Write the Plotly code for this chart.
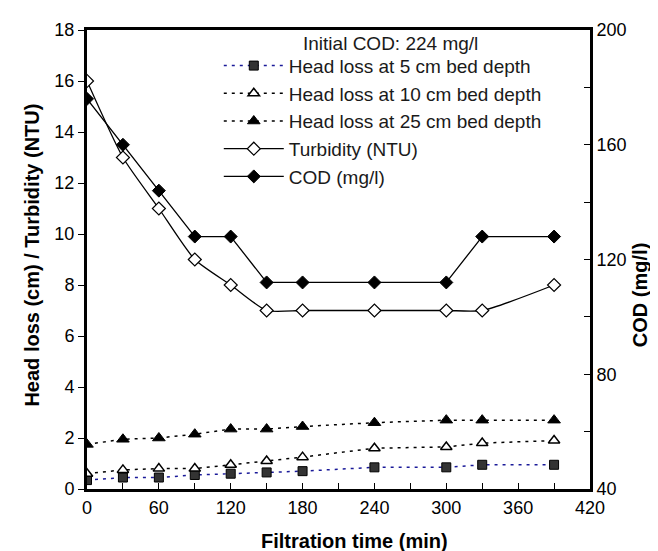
import plotly.graph_objects as go

time_min = [0, 30, 60, 90, 120, 150, 180, 240, 300, 330, 390]
head_loss_5cm = [0.35, 0.45, 0.45, 0.55, 0.6, 0.65, 0.7, 0.85, 0.85, 0.95, 0.95]
head_loss_10cm = [0.6, 0.75, 0.8, 0.8, 0.95, 1.1, 1.25, 1.6, 1.65, 1.8, 1.9]
head_loss_25cm = [1.75, 1.95, 2.0, 2.15, 2.35, 2.35, 2.45, 2.6, 2.7, 2.7, 2.7]
turbidity_ntu = [16, 13, 11, 9, 8, 7, 7, 7, 7, 7, 8]
cod_mgl = [176, 160, 144, 128, 128, 112, 112, 112, 112, 128, 128]

x_ticks = [0, 60, 120, 180, 240, 300, 360, 420]
left_ticks = [0, 2, 4, 6, 8, 10, 12, 14, 16, 18]
right_ticks = [40, 80, 120, 160, 200]

FONT = "Liberation Sans, Arial, sans-serif"
DOT = "3px,5px"
TICK_SIZE = 18
TITLE_SIZE = 20
LEG_SIZE = 19

fig = go.Figure()

fig.add_trace(go.Scatter(
    x=time_min, y=head_loss_5cm, name="Head loss at 5 cm bed depth",
    mode="lines+markers",
    line=dict(color="#1a1a99", width=1.5, dash=DOT),
    marker=dict(symbol="square", size=9, color="#333333", line=dict(color="#000000", width=1)),
))
fig.add_trace(go.Scatter(
    x=time_min, y=head_loss_10cm, name="Head loss at 10 cm bed depth",
    mode="lines+markers",
    line=dict(color="#000000", width=1.5, dash=DOT),
    marker=dict(symbol="triangle-up", size=10, color="#ffffff", line=dict(color="#000000", width=1.5)),
))
fig.add_trace(go.Scatter(
    x=time_min, y=head_loss_25cm, name="Head loss at 25 cm bed depth",
    mode="lines+markers",
    line=dict(color="#000000", width=1.5, dash=DOT),
    marker=dict(symbol="triangle-up", size=11, color="#000000", line=dict(color="#000000", width=1)),
))
fig.add_trace(go.Scatter(
    x=time_min, y=turbidity_ntu, name="Turbidity (NTU)",
    mode="lines+markers",
    line=dict(color="#000000", width=1.3, shape="spline", smoothing=0.6),
    marker=dict(symbol="diamond", size=10, color="#ffffff", line=dict(color="#000000", width=1.2)),
))
fig.add_trace(go.Scatter(
    x=time_min, y=cod_mgl, name="COD (mg/l)", yaxis="y2",
    mode="lines+markers",
    line=dict(color="#000000", width=1.3),
    marker=dict(symbol="diamond", size=10, color="#000000", line=dict(color="#000000", width=1)),
))

fig.update_layout(
    width=658, height=551,
    margin=dict(l=79, r=76, t=13, b=70),
    paper_bgcolor="white", plot_bgcolor="white",
    font=dict(family=FONT, size=TICK_SIZE, color="#000000"),
    showlegend=True,
    legend=dict(
        x=0.262, y=0.9635, xanchor="left", yanchor="top",
        bgcolor="rgba(0,0,0,0)", borderwidth=0,
        font=dict(family=FONT, size=LEG_SIZE, color="#1a1a1a"),
        tracegroupgap=0, itemwidth=60,
    ),
    xaxis=dict(
        range=[0, 420], tickvals=x_ticks, ticktext=[str(v) for v in x_ticks],
        showgrid=False, zeroline=False,
        showline=True, linecolor="#000000", linewidth=3, mirror=True,
        ticks="inside", ticklen=6, tickwidth=1, tickcolor="#000000",
        minor=dict(dtick=30, tick0=0, ticks="inside", ticklen=6, tickwidth=1, tickcolor="#000000"),
        tickfont=dict(family=FONT, size=TICK_SIZE),
    ),
    yaxis=dict(
        range=[0, 18], tickvals=left_ticks, ticktext=[str(v) for v in left_ticks],
        showgrid=False, zeroline=False,
        showline=True, linecolor="#000000", linewidth=3,
        ticks="outside", ticklen=6, tickwidth=1, tickcolor="#000000",
        tickfont=dict(family=FONT, size=TICK_SIZE),
    ),
    yaxis2=dict(
        range=[40, 200], tickvals=right_ticks, ticktext=[str(v) for v in right_ticks],
        overlaying="y", side="right",
        showgrid=False, zeroline=False,
        showline=True, linecolor="#000000", linewidth=3,
        ticks="inside", ticklen=6, tickwidth=1, tickcolor="#000000",
        minor=dict(dtick=20, tick0=40, ticks="inside", ticklen=6, tickwidth=1, tickcolor="#000000"),
        tickfont=dict(family=FONT, size=TICK_SIZE),
    ),
    annotations=[
        dict(text="Initial COD: 224 mg/l", xref="paper", yref="paper",
             x=0.425, y=0.943, xanchor="left", yanchor="bottom", showarrow=False,
             font=dict(family=FONT, size=LEG_SIZE, color="#1a1a1a")),
        dict(text="<b>Filtration time (min)</b>", xref="paper", yref="paper",
             x=0.531, y=-0.113, xanchor="center", yanchor="middle", showarrow=False,
             font=dict(family=FONT, size=TITLE_SIZE)),
        dict(text="<b>Head loss (cm) / Turbidity (NTU)</b>", xref="paper", yref="paper",
             x=-0.11, y=0.51, xanchor="center", yanchor="middle", showarrow=False,
             textangle=-90, font=dict(family=FONT, size=TITLE_SIZE)),
        dict(text="<b>COD (mg/l)</b>", xref="paper", yref="paper",
             x=1.10, y=0.423, xanchor="center", yanchor="middle", showarrow=False,
             textangle=-90, font=dict(family=FONT, size=TITLE_SIZE)),
    ],
)

fig.write_html("out.html")
